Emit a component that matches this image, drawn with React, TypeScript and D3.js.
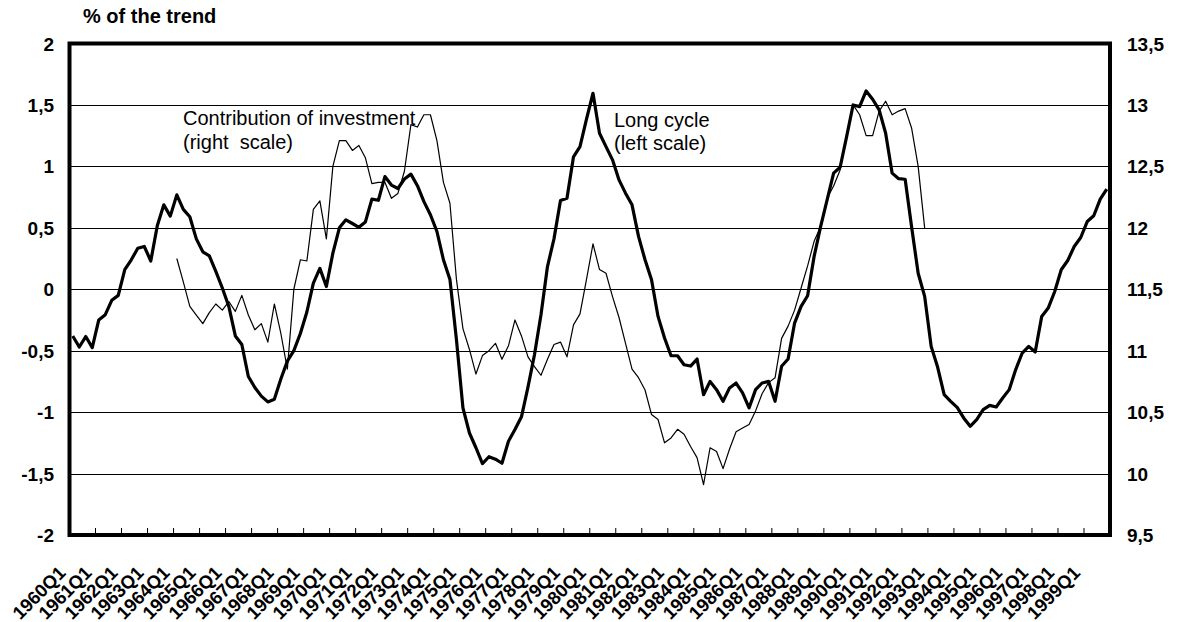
import React from 'react';
import * as d3 from 'd3';

const years = [1960, 1961, 1962, 1963, 1964, 1965, 1966, 1967, 1968, 1969,
  1970, 1971, 1972, 1973, 1974, 1975, 1976, 1977, 1978, 1979,
  1980, 1981, 1982, 1983, 1984, 1985, 1986, 1987, 1988, 1989,
  1990, 1991, 1992, 1993, 1994, 1995, 1996, 1997, 1998, 1999];
const quarterNames = ['Q1', 'Q2', 'Q3', 'Q4'];
const quarters = years.flatMap((y) => quarterNames.map((q) => `${y}${q}`));
const tickLabels = years.map((y) => `${y}Q1`);

// Long cycle (left scale), 1960Q1 - 1999Q4
const longCycle = [
  -0.38, -0.47, -0.385, -0.475, -0.25, -0.207, -0.09, -0.05, 0.159, 0.24,
  0.333, 0.348, 0.23, 0.517, 0.687, 0.595, 0.768, 0.65, 0.59, 0.41,
  0.305, 0.272, 0.145, 0.01, -0.14, -0.38, -0.45, -0.71, -0.8, -0.87,
  -0.917, -0.895, -0.73, -0.585, -0.5, -0.36, -0.185, 0.05, 0.17, 0.022,
  0.294, 0.5, 0.565, 0.535, 0.504, 0.548, 0.733, 0.724, 0.917, 0.848,
  0.82, 0.897, 0.937, 0.843, 0.713, 0.606, 0.47, 0.24, 0.08, -0.41,
  -0.965, -1.17, -1.29, -1.419, -1.363, -1.383, -1.416, -1.237, -1.142, -1.038,
  -0.797, -0.533, -0.208, 0.185, 0.41, 0.723, 0.741, 1.078, 1.161, 1.385,
  1.595, 1.27, 1.161, 1.053, 0.89, 0.782, 0.687, 0.43, 0.24, 0.077,
  -0.221, -0.397, -0.541, -0.541, -0.614, -0.625, -0.568, -0.858, -0.75, -0.817,
  -0.912, -0.803, -0.763, -0.844, -0.966, -0.817, -0.763, -0.75, -0.912, -0.627,
  -0.568, -0.275, -0.14, -0.053, 0.267, 0.51, 0.728, 0.945, 0.993, 1.242,
  1.5, 1.486, 1.614, 1.546, 1.46, 1.27, 0.945, 0.9, 0.895, 0.505,
  0.13, -0.058, -0.465, -0.635, -0.858, -0.912, -0.961, -1.047, -1.115, -1.061,
  -0.98, -0.945, -0.958, -0.885, -0.817, -0.654, -0.519, -0.465, -0.511, -0.221,
  -0.153, -0.018, 0.159, 0.234, 0.348, 0.421, 0.551, 0.598, 0.733, 0.815,
];

// Contribution of investment (right scale), 1964Q1 - 1992Q4
const investmentStart = '1964Q1';
const investment = [
  11.75, 11.56, 11.36, 11.29, 11.22, 11.31, 11.38, 11.33, 11.4, 11.32,
  11.45, 11.29, 11.17, 11.22, 11.07, 11.38, 11.14, 10.85, 11.5, 11.74,
  11.73, 12.15, 12.22, 11.91, 12.5, 12.71, 12.71, 12.63, 12.67, 12.57,
  12.36, 12.37, 12.37, 12.24, 12.28, 12.46, 12.84, 12.82, 12.92, 12.92,
  12.71, 12.37, 12.2, 11.58, 11.18, 11.01, 10.81, 10.96, 11.0, 11.06,
  10.93, 11.04, 11.25, 11.12, 10.95, 10.87, 10.8, 10.93, 11.05, 11.07,
  10.95, 11.21, 11.3, 11.58, 11.87, 11.66, 11.63, 11.44, 11.27, 11.06,
  10.85, 10.78, 10.68, 10.48, 10.44, 10.25, 10.29, 10.36, 10.32, 10.22,
  10.13, 9.91, 10.21, 10.18, 10.04, 10.2, 10.34, 10.37, 10.4, 10.51,
  10.65, 10.74, 10.78, 11.1, 11.2, 11.33, 11.51, 11.69, 11.89, 12.01,
  12.24, 12.34, 12.47, 12.74, 13.0, 12.92, 12.75, 12.75, 12.95, 13.03,
  12.92, 12.95, 12.97, 12.81, 12.5, 12.0,
];

const leftTicks = [-2, -1.5, -1, -0.5, 0, 0.5, 1, 1.5, 2];
const rightTicks = [9.5, 10, 10.5, 11, 11.5, 12, 12.5, 13, 13.5];

const titleText = '% of the trend';
const investmentLabel = ['Contribution of investment', '(right  scale)'];
const cycleLabel = ['Long cycle', '(left scale)'];

const FONT = 'Arial, "Liberation Sans", Helvetica, sans-serif';
const fmt = (v: number) => String(v).replace('.', ',');

export default function App() {
  const W = 1178;
  const H = 622;
  const left = 69.5;
  const right = 1110;
  const top = 43.5;
  const bottom = 535;

  const x = d3.scaleBand<string>().domain(quarters).range([left, right]).padding(0);
  const yL = d3.scaleLinear().domain([-2, 2]).range([bottom, top]);
  const yR = d3.scaleLinear().domain([9.5, 13.5]).range([bottom, top]);
  const cx = (q: string) => (x(q) as number) + x.bandwidth() / 2;

  const lineL = d3
    .line<number>()
    .x((_, i) => cx(quarters[i]))
    .y((d) => yL(d));
  const s = quarters.indexOf(investmentStart);
  const lineR = d3
    .line<number>()
    .x((_, i) => cx(quarters[s + i]))
    .y((d) => yR(d));

  return (
    <svg
      width={W}
      height={H}
      style={{ position: 'absolute', left: 0, top: 0, display: 'block', background: '#fff' }}
      fontFamily={FONT}
    >
      <rect x={0} y={0} width={W} height={H} fill="#fff" />
      <text x={83} y={22.5} fontSize={20} fontWeight="bold" fill="#000">
        {titleText}
      </text>

      {leftTicks
        .filter((t) => t !== -2 && t !== 2)
        .map((t) => (
          <line
            key={`g${t}`}
            x1={left}
            x2={right}
            y1={Math.round(yL(t)) + 0.5}
            y2={Math.round(yL(t)) + 0.5}
            stroke="#000"
            strokeWidth={1}
          />
        ))}

      <path d={lineR(investment) || ''} fill="none" stroke="#000" strokeWidth={1.2} strokeLinejoin="round" />
      <path d={lineL(longCycle) || ''} fill="none" stroke="#000" strokeWidth={3.2} strokeLinejoin="round" />

      <rect x={left} y={top} width={right - left} height={bottom - top} fill="none" stroke="#000" strokeWidth={4} />

      {tickLabels.slice(1).map((q) => (
        <line
          key={`t${q}`}
          x1={x(q) as number}
          x2={x(q) as number}
          y1={bottom - 2}
          y2={bottom - 7}
          stroke="#000"
          strokeWidth={1}
        />
      ))}

      {leftTicks.map((t) => (
        <text key={`l${t}`} x={54} y={yL(t) + 7} textAnchor="end" fontSize={19} fontWeight="bold" fill="#000">
          {fmt(t)}
        </text>
      ))}
      {rightTicks.map((t) => (
        <text key={`r${t}`} x={1127} y={yR(t) + 7} textAnchor="start" fontSize={19} fontWeight="bold" fill="#000">
          {fmt(t)}
        </text>
      ))}

      {tickLabels.map((q) => (
        <text
          key={`x${q}`}
          transform={`translate(${cx(q) - 6},${574}) rotate(-45)`}
          textAnchor="end"
          fontSize={18.5}
          fontWeight="bold"
          fill="#000"
        >
          {q}
        </text>
      ))}

      <text fontSize={20} fill="#000" style={{ whiteSpace: 'pre' }}>
        <tspan x={183} y={125}>{investmentLabel[0]}</tspan>
        <tspan x={183} y={149}>{investmentLabel[1]}</tspan>
      </text>
      <text fontSize={20} fill="#000">
        <tspan x={614} y={127}>{cycleLabel[0]}</tspan>
        <tspan x={614} y={150}>{cycleLabel[1]}</tspan>
      </text>
    </svg>
  );
}
